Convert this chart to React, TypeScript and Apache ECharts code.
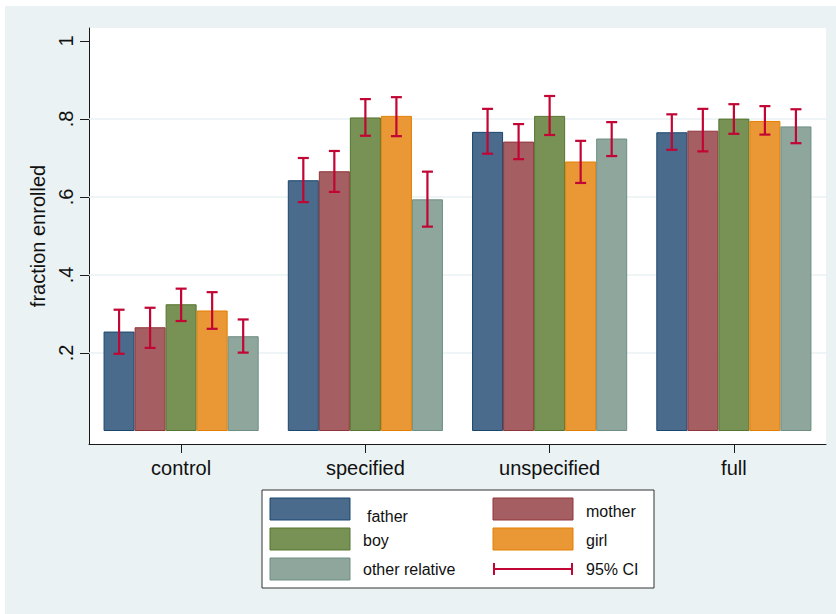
import React, { useEffect, useRef } from "react";
import * as echarts from "echarts";

const categories = ["control", "specified", "unspecified", "full"];
const seriesNames = ["father", "mother", "boy", "girl", "other relative"];

const father = [0.255, 0.643, 0.767, 0.766];
const mother = [0.266, 0.666, 0.742, 0.770];
const boy = [0.325, 0.804, 0.808, 0.801];
const girl = [0.309, 0.808, 0.691, 0.795];
const otherRelative = [0.243, 0.594, 0.750, 0.781];

const fatherLo = [0.198, 0.587, 0.711, 0.721];
const fatherHi = [0.311, 0.700, 0.826, 0.812];
const motherLo = [0.213, 0.613, 0.697, 0.717];
const motherHi = [0.316, 0.718, 0.787, 0.826];
const boyLo = [0.282, 0.757, 0.759, 0.762];
const boyHi = [0.365, 0.851, 0.859, 0.838];
const girlLo = [0.262, 0.756, 0.636, 0.760];
const girlHi = [0.356, 0.856, 0.744, 0.833];
const otherLo = [0.201, 0.524, 0.705, 0.738];
const otherHi = [0.286, 0.665, 0.792, 0.825];

const yTickValues = [0.2, 0.4, 0.6, 0.8, 1];
const gridValues = [0.2, 0.4, 0.6, 0.8];
const ciLabel = "95% CI";
const yTitle = "fraction enrolled";

const values = [father, mother, boy, girl, otherRelative];
const lows = [fatherLo, motherLo, boyLo, girlLo, otherLo];
const highs = [fatherHi, motherHi, boyHi, girlHi, otherHi];

const fills = ["#4a6b8b", "#a55e61", "#789155", "#ea9835", "#8ea69b"];
const borders = ["#1a476f", "#90353b", "#55752f", "#e37e00", "#6e8e84"];
const ciColor = "#c10534";
const FONT = "'Liberation Sans', Arial, Helvetica, sans-serif";
const CAT_GAP = 0.158;

export default function App() {
  const ref = useRef<HTMLDivElement>(null);

  useEffect(() => {
    if (!ref.current) return;
    const chart = echarts.init(ref.current, undefined, { renderer: "svg" });

    const ciData: number[][] = [];
    for (let s = 0; s < values.length; s++) {
      for (let c = 0; c < categories.length; c++) {
        ciData.push([c, lows[s][c], highs[s][c], s]);
      }
    }

    const barSeries = seriesNames.map((name, i) => ({
      type: "bar",
      name,
      data: values[i],
      barGap: "0%",
      barCategoryGap: CAT_GAP * 100 + "%",
      z: 2,
      itemStyle: { color: fills[i], borderColor: borders[i], borderWidth: 1 },
    }));

    // legend layout
    const legendItems: any[] = [];
    legendItems.push({
      type: "rect",
      shape: { x: 262, y: 490, width: 392, height: 98 },
      style: { fill: "#ffffff", stroke: "#333333", lineWidth: 1 },
    });
    const swatchPos = [
      { x: 270, y: 498, tx: 367, ty: 516 },
      { x: 493, y: 498, tx: 586, ty: 511 },
      { x: 270, y: 528, tx: 363, ty: 540 },
      { x: 493, y: 528, tx: 586, ty: 540 },
      { x: 270, y: 558, tx: 363, ty: 569 },
    ];
    seriesNames.forEach((name, i) => {
      const p = swatchPos[i];
      legendItems.push({
        type: "rect",
        shape: { x: p.x, y: p.y, width: 80, height: 22 },
        style: { fill: fills[i], stroke: borders[i], lineWidth: 1 },
      });
      legendItems.push({
        type: "text",
        x: p.tx,
        y: p.ty,
        style: {
          text: name,
          fill: "#111",
          fontSize: 16,
          fontFamily: FONT,
          verticalAlign: "middle",
          align: "left",
        },
      });
    });
    const ciStyle = { stroke: ciColor, lineWidth: 2 };
    legendItems.push({ type: "line", shape: { x1: 493, y1: 569, x2: 573, y2: 569 }, style: ciStyle });
    legendItems.push({ type: "line", shape: { x1: 494, y1: 563, x2: 494, y2: 575 }, style: ciStyle });
    legendItems.push({ type: "line", shape: { x1: 572, y1: 563, x2: 572, y2: 575 }, style: ciStyle });
    legendItems.push({
      type: "text",
      x: 586,
      y: 569,
      style: { text: ciLabel, fill: "#111", fontSize: 16, fontFamily: FONT, verticalAlign: "middle", align: "left" },
    });

    const option: any = {
      animation: false,
      backgroundColor: "transparent",
      textStyle: { fontFamily: FONT },
      grid: {
        left: 89,
        right: 10,
        top: 28,
        bottom: 170,
        show: true,
        backgroundColor: "#ffffff",
        borderWidth: 0,
        containLabel: false,
      },
      xAxis: {
        type: "category",
        data: categories,
        axisLine: { show: true, onZero: false, lineStyle: { color: "#1a1a1a", width: 1 } },
        axisTick: { show: true, alignWithLabel: true, length: 9, lineStyle: { color: "#1a1a1a" } },
        axisLabel: { fontSize: 20, color: "#111", margin: 14, fontFamily: FONT },
        splitLine: { show: false },
      },
      yAxis: {
        type: "value",
        min: -1 / 30,
        max: 31 / 30,
        name: yTitle,
        nameLocation: "middle",
        nameGap: 40,
        nameTextStyle: { fontSize: 20, color: "#111", fontFamily: FONT },
        axisLine: { show: true, lineStyle: { color: "#1a1a1a", width: 1 } },
        axisTick: { show: true, length: 9, customValues: yTickValues, lineStyle: { color: "#1a1a1a" } },
        axisLabel: {
          customValues: yTickValues,
          rotate: 90,
          margin: 13,
          fontSize: 20,
          color: "#111",
          fontFamily: FONT,
          formatter: (v: number) => (v >= 0.999 ? "1" : v.toFixed(1).replace(/^0/, "")),
        },
        splitLine: { show: false },
      },
      graphic: legendItems,
      series: [
        {
          type: "custom",
          name: "grid",
          z: 1,
          silent: true,
          data: gridValues.map((v) => [0, v]),
          encode: { x: 0, y: 1 },
          renderItem: (params: any, api: any) => {
            const cs = params.coordSys;
            const y = api.coord([0, api.value(1)])[1];
            return {
              type: "line",
              shape: { x1: cs.x, y1: y, x2: cs.x + cs.width, y2: y },
              style: { stroke: "#eaf2f3", lineWidth: 1.6 },
            };
          },
        },
        ...barSeries,
        {
          type: "custom",
          name: ciLabel,
          z: 5,
          silent: true,
          data: ciData,
          encode: { x: 0, y: [1, 2] },
          renderItem: (params: any, api: any) => {
            const c = api.value(0);
            const lo = api.value(1);
            const hi = api.value(2);
            const s = api.value(3);
            const band = api.size([1, 0])[0];
            const barW = (band * (1 - CAT_GAP)) / seriesNames.length;
            const center = api.coord([c, 0])[0];
            const x = center + (s - (seriesNames.length - 1) / 2) * barW;
            const yLo = api.coord([c, lo])[1];
            const yHi = api.coord([c, hi])[1];
            const half = 5.5;
            const st = { stroke: ciColor, lineWidth: 2.2 };
            return {
              type: "group",
              children: [
                { type: "line", shape: { x1: x, y1: yLo, x2: x, y2: yHi }, style: st },
                { type: "line", shape: { x1: x - half, y1: yHi, x2: x + half, y2: yHi }, style: st },
                { type: "line", shape: { x1: x - half, y1: yLo, x2: x + half, y2: yLo }, style: st },
              ],
            };
          },
        },
      ],
    };

    chart.setOption(option);
    return () => chart.dispose();
  }, []);

  return (
    <div style={{ position: "fixed", left: 0, top: 0, width: 836, height: 614, background: "#ffffff" }}>
      <div style={{ position: "absolute", left: 5, top: 6, width: 831, height: 608, background: "#eaf2f3" }} />
      <div ref={ref} style={{ position: "absolute", left: 0, top: 0, width: 836, height: 614 }} />
    </div>
  );
}
